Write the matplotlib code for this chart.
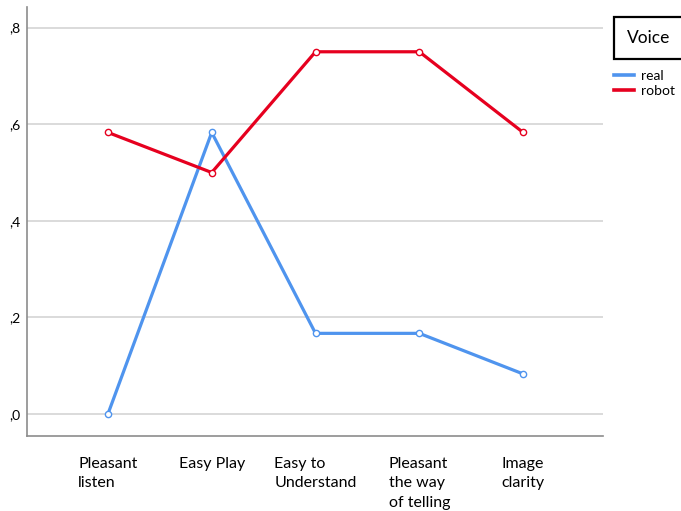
import matplotlib
matplotlib.use("Agg")
import matplotlib.pyplot as plt
from matplotlib.lines import Line2D

plt.rcParams['font.family'] = ['Lato', 'DejaVu Sans']

categorias = ["Pleasant\nlisten", "Easy Play", "Easy to\nUnderstand",
              "Pleasant\nthe way\nof telling", "Image\nclarity"]
real = [0.0, 0.583, 0.167, 0.167, 0.083]
robot = [0.583, 0.5, 0.75, 0.75, 0.583]
y_ticks = [0.0, 0.2, 0.4, 0.6, 0.8]
y_labels = [",0", ",2", ",4", ",6", ",8"]

azul = "#4f94ee"
rojo = "#e6001f"

fig = plt.figure(figsize=(6.81, 5.11), dpi=100)
ax = fig.add_axes([0.0396, 0.1468, 0.8459, 0.8395])

x = list(range(len(categorias)))
ax.plot(x, real, color=azul, linewidth=2.3, marker="o", markersize=4.5,
        markerfacecolor="white", markeredgecolor=azul, markeredgewidth=1.0)
ax.plot(x, robot, color=rojo, linewidth=2.3, marker="o", markersize=4.5,
        markerfacecolor="white", markeredgecolor=rojo, markeredgewidth=1.0)

ax.set_xlim(-0.78, 4.77)
ax.set_ylim(-0.0455, 0.8427)
ax.set_yticks(y_ticks)
ax.set_yticklabels(y_labels, fontsize=10)
ax.set_xticks(x)
ax.set_xticklabels(categorias, fontsize=11.5, multialignment="left",
                   va="top", linespacing=1.5)
ax.tick_params(axis="both", length=0)
ax.tick_params(axis="x", pad=15)
ax.tick_params(axis="y", pad=5)

ax.grid(True, axis="y", color="#d4d4d4", linewidth=1.2)
ax.set_axisbelow(True)
for lado in ["top", "right"]:
    ax.spines[lado].set_visible(False)
ax.spines["left"].set_color("#8c8c8c")
ax.spines["bottom"].set_color("#8c8c8c")
ax.spines["left"].set_linewidth(1.2)
ax.spines["bottom"].set_linewidth(1.2)

# caja del titulo de la leyenda
fig.text(0.921, 0.9256, "Voice", fontsize=12.5, ha="left", va="center",
         bbox=dict(boxstyle="square,pad=0.75", facecolor="white",
                   edgecolor="black", linewidth=1.6))

handles = [Line2D([0], [0], color=azul, linewidth=2.6),
           Line2D([0], [0], color=rojo, linewidth=2.6)]
fig.legend(handles, ["real", "robot"], loc="upper left",
           bbox_to_anchor=(0.898, 0.868), frameon=False, fontsize=10,
           handlelength=1.45, handletextpad=0.45, labelspacing=0.2,
           borderaxespad=0, borderpad=0.2)

fig.savefig("out.png", dpi=100)
